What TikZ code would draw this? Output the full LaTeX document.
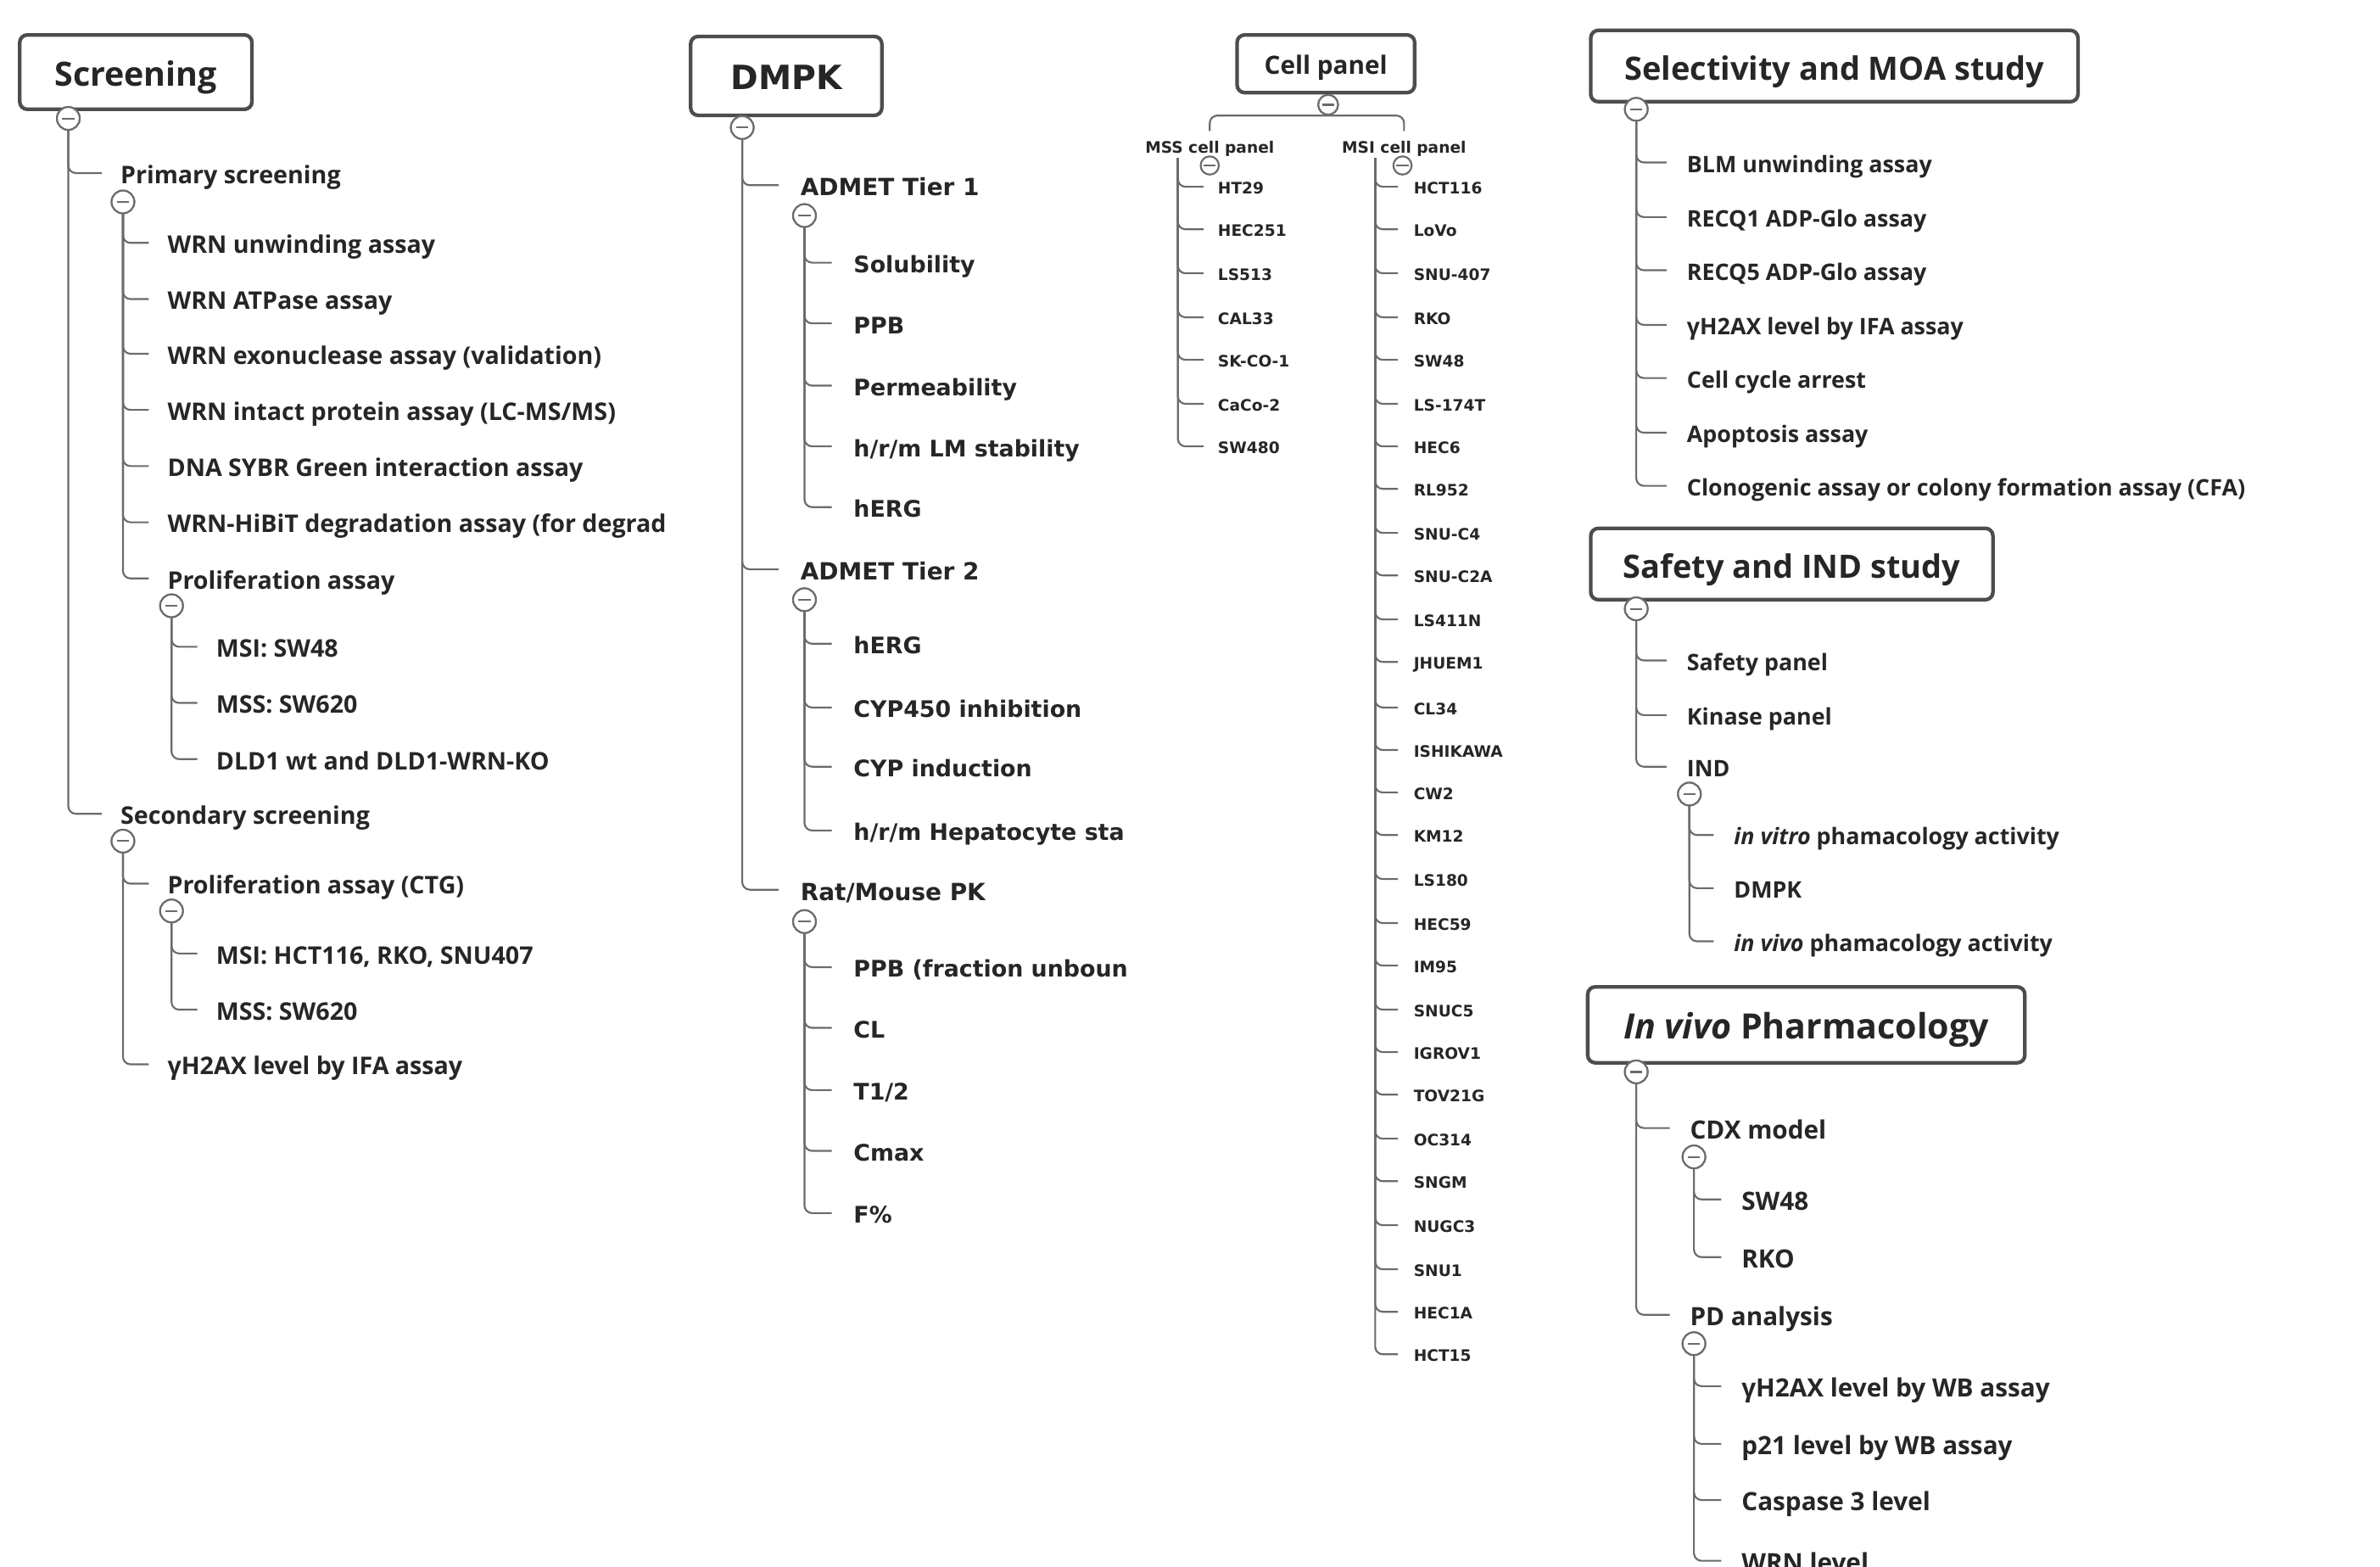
\documentclass[tikz,border=0pt]{standalone}
\usepackage{fontspec}
\setmainfont{Open Sans}
\newfontfamily\fb{DejaVu Sans}
\definecolor{txt}{HTML}{262626}
\definecolor{linec}{HTML}{6B6B6B}
\definecolor{boxc}{HTML}{4D4D4D}
\tikzset{
  conn/.style={draw=linec, line width=0.6pt, rounded corners=2.5pt},
  hbox/.style={draw=boxc, line width=1.2pt, rounded corners=2.5pt, fill=white, inner sep=0pt, text=txt, text height=10pt, text depth=0.8pt, font=\bfseries\fontsize{11}{13}\selectfont},
  tog/.style={circle, draw=linec, fill=white, line width=0.6pt, minimum size=7.5pt, inner sep=0pt,
    path picture={\draw[linec, line width=0.6pt] ([xshift=-2pt]path picture bounding box.center) -- ([xshift=2pt]path picture bounding box.center);}},
  stog/.style={tog, minimum size=6.5pt},
  item/.style={anchor=west, inner sep=0pt, text=txt, text height=7.4pt, text depth=0.5pt, font=\bfseries\fontsize{8}{9.6}\selectfont},
  ritem/.style={item, text height=7pt, text depth=0.5pt, font=\bfseries\fontsize{7.5}{9}\selectfont},
  vitem/.style={item, text height=7.6pt, text depth=0.5pt, font=\bfseries\fontsize{8.3}{10}\selectfont},
  ditem/.style={anchor=west, inner sep=0pt, text=txt, text height=7pt, text depth=0.3pt, font=\fb\bfseries\fontsize{7.5}{9}\selectfont},
  titem/.style={ditem, text height=7.2pt, font=\fb\bfseries\fontsize{7.8}{9}\selectfont},
  citem/.style={anchor=west, inner sep=0pt, text=txt, text height=5pt, text depth=0.3pt, font=\fb\bfseries\fontsize{5.2}{6}\selectfont},
}
\newcommand\tlink[3][6pt]{\draw[conn] (#2.south) |- ([xshift=-#1]#3.west);}
\newcommand\clink[3][4.5pt]{\draw[conn] (#2) |- ([xshift=-#1]#3.west);}
\begin{document}
\begin{tikzpicture}[x=0.5pt,y=-0.5pt]
\useasboundingbox (0,0) rectangle (1568,1032);
\fill[white] (0,0) rectangle (1568,1032);

% ================= Screening =================
\node[hbox, minimum width=76.5pt, minimum height=24.5pt] (scr) at (89.5,47.5) {Screening};
\node[tog] (c-scr) at (45,78) {};
\node[item] (prim) at (79,114) {Primary screening};
\node[tog] (c-prim) at (81,133) {};
\node[item] (p1) at (110,160) {WRN unwinding assay};
\node[item] (p2) at (110,197) {WRN ATPase assay};
\node[item] (p3) at (110,233) {WRN exonuclease assay (validation)};
\node[item] (p4) at (110,270) {WRN intact protein assay (LC-MS/MS)};
\node[item] (p5) at (110,307) {DNA SYBR Green interaction assay};
\node[item] (p6) at (110,344) {WRN-HiBiT degradation assay (for degrad};
\node[item] (p7) at (110,381) {Proliferation assay};
\node[tog] (c-prol) at (113,399) {};
\node[item] (q1) at (142,426) {MSI: SW48};
\node[item] (q2) at (142,463) {MSS: SW620};
\node[item] (q3) at (142,500) {DLD1 wt and DLD1-WRN-KO};
\node[item] (sec) at (79,536) {Secondary screening};
\node[tog] (c-sec) at (81,554) {};
\node[item] (s1) at (110,582) {Proliferation assay (CTG)};
\node[tog] (c-ctg) at (113,600) {};
\node[item] (r1) at (142,628) {MSI: HCT116, RKO, SNU407};
\node[item] (r2) at (142,665) {MSS: SW620};
\node[item] (s2) at (110,701) {γH2AX level by IFA assay};
\tlink{c-scr}{sec}\tlink{c-scr}{prim}
\foreach \k in {p1,p2,p3,p4,p5,p6,p7} {\tlink{c-prim}{\k}}
\foreach \k in {q1,q2,q3} {\tlink{c-prol}{\k}}
\tlink{c-sec}{s1}\tlink{c-sec}{s2}
\tlink{c-ctg}{r1}\tlink{c-ctg}{r2}
\node[tog] at (c-scr) {};
\node[tog] at (c-prim) {};
\node[tog] at (c-prol) {};
\node[tog] at (c-sec) {};
\node[tog] at (c-ctg) {};

% ================= DMPK =================
\node[hbox, font=\fb\bfseries\fontsize{11}{13}\selectfont, minimum width=63pt, minimum height=26pt] (dmpk) at (518,50) {DMPK};
\node[tog] (c-dmpk) at (489,84) {};
\node[titem] (t1) at (527,122) {ADMET Tier 1};
\node[tog] (c-t1) at (530,142) {};
\node[ditem] (a1) at (562,173) {Solubility};
\node[ditem] (a2) at (562,213) {PPB};
\node[ditem] (a3) at (562,254) {Permeability};
\node[ditem] (a4) at (562,294) {h/r/m LM stability};
\node[ditem] (a5) at (562,334) {hERG};
\node[titem] (t2) at (527,375) {ADMET Tier 2};
\node[tog] (c-t2) at (530,395) {};
\node[ditem] (b1) at (562,424) {hERG};
\node[ditem] (b2) at (562,466) {CYP450 inhibition};
\node[ditem] (b3) at (562,505) {CYP induction};
\node[ditem] (b4) at (562,547) {h/r/m Hepatocyte sta};
\node[titem] (t3) at (527,586) {Rat/Mouse PK};
\node[tog] (c-t3) at (530,607) {};
\node[ditem] (d1) at (562,637) {PPB (fraction unboun};
\node[ditem] (d2) at (562,677) {CL};
\node[ditem] (d3) at (562,718) {T1/2};
\node[ditem] (d4) at (562,758) {Cmax};
\node[ditem] (d5) at (562,799) {F\%};
\foreach \k in {t1,t2,t3} {\tlink[7pt]{c-dmpk}{\k}}
\foreach \k in {a1,a2,a3,a4,a5} {\tlink[7pt]{c-t1}{\k}}
\foreach \k in {b1,b2,b3,b4} {\tlink[7pt]{c-t2}{\k}}
\foreach \k in {d1,d2,d3,d4,d5} {\tlink[7pt]{c-t3}{\k}}
\node[tog] at (c-dmpk) {};
\node[tog] at (c-t1) {};
\node[tog] at (c-t2) {};
\node[tog] at (c-t3) {};

% ================= Cell panel =================
\node[hbox, font=\bfseries\fontsize{8.3}{10}\selectfont, text height=7.5pt, text depth=0.6pt, minimum width=58.5pt, minimum height=19pt] (cp) at (873.5,42) {Cell panel};
\node[stog] (c-cp) at (875,69) {};
\node[citem, anchor=center] (mssl) at (797,96) {MSS cell panel};
\node[citem, anchor=center] (msil) at (925,96) {MSI cell panel};
\draw[conn] ([yshift=2pt]mssl.north) |- (c-cp.south) -| ([yshift=2pt]msil.north);
\node[stog, minimum size=6pt] (c-mss) at (797,109) {};
\node[stog, minimum size=6pt] (c-msi) at (924,109) {};
\coordinate (mss-t) at (776,104);
\coordinate (msi-t) at (906,104);
\foreach \n/\y/\t in {m1/123/HT29, m2/151/HEC251, m3/180/LS513, m4/209/CAL33, m5/237/SK-CO-1, m6/266/CaCo-2, m7/294/SW480} {
  \node[citem] (\n) at (802,\y) {\t};
  \clink{mss-t}{\n}
}
\foreach \n/\y/\t in {n1/123/HCT116, n2/151/LoVo, n3/180/SNU-407, n4/209/RKO, n5/237/SW48, n6/266/LS-174T, n7/294/HEC6, n8/322/RL952, n9/351/SNU-C4, n10/379/SNU-C2A, n11/408/LS411N, n12/436/JHUEM1, n13/466/CL34, n14/494/ISHIKAWA, n15/522/CW2, n16/550/KM12, n17/579/LS180, n18/608/HEC59, n19/636/IM95, n20/665/SNUC5, n21/693/IGROV1, n22/721/TOV21G, n23/750/OC314, n24/778/SNGM, n25/807/NUGC3, n26/836/SNU1, n27/864/HEC1A, n28/892/HCT15} {
  \node[citem] (\n) at (931,\y) {\t};
  \clink[5pt]{msi-t}{\n}
}
\node[stog] at (c-cp) {};

% ================= Selectivity and MOA =================
\node[hbox, font=\bfseries\fontsize{10.6}{13}\selectfont, minimum width=160.5pt, minimum height=23.5pt] (sel) at (1208.5,43.5) {Selectivity and MOA study};
\node[tog] (c-sel) at (1078,72) {};
\node[ritem] (e1) at (1111,107) {BLM unwinding assay};
\node[ritem] (e2) at (1111,143) {RECQ1 ADP-Glo assay};
\node[ritem] (e3) at (1111,178) {RECQ5 ADP-Glo assay};
\node[ritem] (e4) at (1111,214) {γH2AX level by IFA assay};
\node[ritem] (e5) at (1111,249) {Cell cycle arrest};
\node[ritem] (e6) at (1111,285) {Apoptosis assay};
\node[ritem] (e7) at (1111,320) {Clonogenic assay or colony formation assay (CFA)};
\foreach \k in {e1,e2,e3,e4,e5,e6,e7} {\tlink[6.5pt]{c-sel}{\k}}
\node[tog] at (c-sel) {};

% ================= Safety and IND =================
\node[hbox, font=\bfseries\fontsize{10.6}{13}\selectfont, minimum width=132.5pt, minimum height=23.5pt] (saf) at (1180.5,371.5) {Safety and IND study};
\node[tog] (c-saf) at (1078,401) {};
\node[ritem] (f1) at (1111,435) {Safety panel};
\node[ritem] (f2) at (1111,471) {Kinase panel};
\node[ritem] (f3) at (1111,505) {IND};
\node[tog] (c-ind) at (1113,523) {};
\node[ritem] (g1) at (1142,550) {\textit{in vitro} phamacology activity};
\node[ritem] (g2) at (1142,585) {DMPK};
\node[ritem] (g3) at (1142,620) {\textit{in vivo} phamacology activity};
\foreach \k in {f1,f2,f3} {\tlink[6.5pt]{c-saf}{\k}}
\foreach \k in {g1,g2,g3} {\tlink[6.5pt]{c-ind}{\k}}
\node[tog] at (c-saf) {};
\node[tog] at (c-ind) {};

% ================= In vivo Pharmacology =================
\node[hbox, font=\bfseries\fontsize{11.5}{13}\selectfont, minimum width=144pt, minimum height=25pt] (viv) at (1190,675) {\textit{In vivo} Pharmacology};
\node[tog] (c-viv) at (1078,706) {};
\node[vitem] (h1) at (1113,743) {CDX model};
\node[tog] (c-cdx) at (1116,762) {};
\node[vitem] (i1) at (1147,790) {SW48};
\node[vitem] (i2) at (1147,828) {RKO};
\node[vitem] (h2) at (1113,866) {PD analysis};
\node[tog] (c-pd) at (1116,885) {};
\node[vitem] (j1) at (1147,913) {γH2AX level by WB assay};
\node[vitem] (j2) at (1147,951) {p21 level by WB assay};
\node[vitem] (j3) at (1147,988) {Caspase 3 level};
\node[vitem] (j4) at (1147,1028) {WRN level};
\foreach \k in {h1,h2} {\tlink[6.5pt]{c-viv}{\k}}
\foreach \k in {i1,i2} {\tlink[6.5pt]{c-cdx}{\k}}
\foreach \k in {j1,j2,j3,j4} {\tlink[6.5pt]{c-pd}{\k}}
\node[tog] at (c-viv) {};
\node[tog] at (c-cdx) {};
\node[tog] at (c-pd) {};
\end{tikzpicture}
\end{document}
